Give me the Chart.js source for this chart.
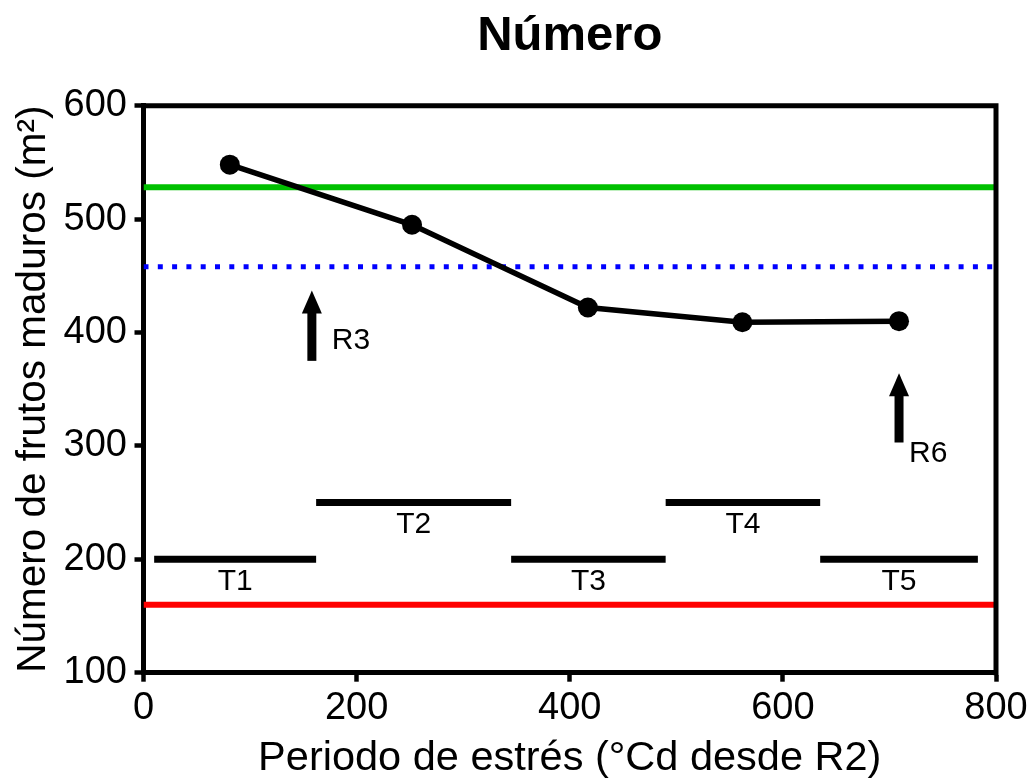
<!DOCTYPE html>
<html>
<head>
<meta charset="utf-8">
<script src="https://cdn.jsdelivr.net/npm/chart.js@4.4.1/dist/chart.umd.min.js"></script>
<style>
  html, body { margin: 0; padding: 0; background: #ffffff; }
  #wrap { width: 1036px; height: 783px; }
</style>
</head>
<body>
<div id="wrap"><canvas id="c" width="1036" height="783"></canvas></div>
<script>
// Stress period (°Cd from R2) and number of mature fruits per m²
const periodX = [81, 252, 417, 562, 709];
const frutos = [548, 495, 422, 409, 410];

// Horizontal reference levels
const refVerde = 528;
const refAzul = 458;
const refRojo = 160;

// Stress treatments: start / end of each period and the level where its bar sits
const trtLabels = ['T1', 'T2', 'T3', 'T4', 'T5'];
const trtStart = [10, 162, 345, 490, 635];
const trtEnd = [162, 345, 490, 635, 783];
const trtLevel = [200, 250, 200, 250, 200];

// Phenological stages marked with arrows (x, base value, tip value)
const stageLabels = ['R3', 'R6'];
const stageX = [158, 709];
const stageFrom = [375, 303];
const stageTo = [437, 364];

// Axis ranges and ticks
const xMin = 0, xMax = 800, xStep = 200;
const yMin = 100, yMax = 600, yStep = 100;

const FONT = '"Liberation Sans", Arial, Helvetica, sans-serif';

// Label placement relative to each arrow base (pixels)
const stageLabelOffset = [{ dx: 20, dy: -20 }, { dx: 10, dy: 11 }];

function hline(value) {
  return [{ x: xMin, y: value }, { x: xMax, y: value }];
}

// Treatment bars as one broken line (null points separate the segments)
const trtPoints = [];
trtLabels.forEach((_, i) => {
  trtPoints.push({ x: trtStart[i], y: trtLevel[i] });
  trtPoints.push({ x: trtEnd[i], y: trtLevel[i] });
  trtPoints.push({ x: trtEnd[i], y: null });
});

const frame = {
  id: 'frame',
  afterDatasetsDraw(chart) {
    const { ctx, chartArea: a } = chart;
    ctx.save();
    ctx.strokeStyle = '#000';
    ctx.lineWidth = 5;
    ctx.lineCap = 'square';
    ctx.beginPath();
    ctx.moveTo(a.left, a.top);
    ctx.lineTo(a.right, a.top);
    ctx.lineTo(a.right, a.bottom);
    ctx.stroke();
    ctx.restore();
  }
};

const annotations = {
  id: 'annotations',
  afterDatasetsDraw(chart) {
    const { ctx, scales: { x, y } } = chart;
    ctx.save();
    ctx.fillStyle = '#000';
    // treatment names under each bar
    ctx.font = '30px ' + FONT;
    ctx.textAlign = 'center';
    ctx.textBaseline = 'middle';
    trtLabels.forEach((lab, i) => {
      const px = x.getPixelForValue((trtStart[i] + trtEnd[i]) / 2);
      const py = y.getPixelForValue(trtLevel[i]) + 22;
      ctx.fillText(lab, px, py);
    });
    // stage arrows
    const headLen = 23, headW = 20, shaftW = 9;
    stageLabels.forEach((lab, i) => {
      const px = x.getPixelForValue(stageX[i]);
      const yb = y.getPixelForValue(stageFrom[i]);
      const yt = y.getPixelForValue(stageTo[i]);
      ctx.fillRect(px - shaftW / 2, yt + headLen - 1, shaftW, yb - yt - headLen + 1);
      ctx.beginPath();
      ctx.moveTo(px, yt);
      ctx.lineTo(px + headW / 2, yt + headLen);
      ctx.lineTo(px - headW / 2, yt + headLen);
      ctx.closePath();
      ctx.fill();
      ctx.font = '30px ' + FONT;
      ctx.textAlign = 'left';
      ctx.textBaseline = 'middle';
      ctx.fillText(lab, px + stageLabelOffset[i].dx, yb + stageLabelOffset[i].dy);
    });
    ctx.restore();
  }
};

new Chart(document.getElementById('c'), {
  type: 'line',
  data: {
    datasets: [
      {
        label: 'Frutos maduros',
        data: periodX.map((v, i) => ({ x: v, y: frutos[i] })),
        borderColor: '#000',
        backgroundColor: '#000',
        borderWidth: 5.5,
        pointRadius: 10,
        pointBorderWidth: 0,
        pointBackgroundColor: '#000',
        tension: 0
      },
      {
        label: 'Tratamientos',
        data: trtPoints,
        borderColor: '#000',
        borderWidth: 7,
        pointRadius: 0,
        spanGaps: false,
        borderCapStyle: 'butt'
      },
      {
        label: 'Referencia verde',
        data: hline(refVerde),
        borderColor: '#00c000',
        borderWidth: 6,
        pointRadius: 0
      },
      {
        label: 'Referencia azul',
        data: hline(refAzul),
        borderColor: '#0000ff',
        borderWidth: 5,
        borderDash: [5, 9.3],
        pointRadius: 0
      },
      {
        label: 'Referencia roja',
        data: hline(refRojo),
        borderColor: '#ff0000',
        borderWidth: 6,
        pointRadius: 0
      }
    ]
  },
  options: {
    responsive: false,
    animation: false,
    events: [],
    layout: { padding: { left: 0, right: 40, top: 0, bottom: 0 } },
    plugins: {
      legend: { display: false },
      tooltip: { enabled: false },
      title: {
        display: true,
        fullSize: false,
        text: 'Número',
        color: '#000',
        font: { family: FONT, size: 49, weight: 'bold', lineHeight: 1.2 },
        padding: { top: 7, bottom: 39.9 }
      }
    },
    scales: {
      x: {
        type: 'linear',
        min: xMin,
        max: xMax,
        afterFit(s) { s.height = 110.3; },
        ticks: {
          stepSize: xStep,
          color: '#000',
          padding: 4,
          maxRotation: 0,
          font: { family: FONT, size: 38 }
        },
        grid: {
          display: true,
          drawOnChartArea: false,
          drawTicks: true,
          tickLength: 9,
          tickWidth: 4.5,
          tickColor: '#000',
          color: '#000'
        },
        border: { display: true, color: '#000', width: 5 },
        title: {
          display: true,
          text: 'Periodo de estrés (°Cd desde R2)',
          color: '#000',
          font: { family: FONT, size: 41.5, lineHeight: 1.2 },
          padding: { top: 0, bottom: 0 }
        }
      },
      y: {
        type: 'linear',
        min: yMin,
        max: yMax,
        afterFit(s) { s.width = 143.5; },
        ticks: {
          stepSize: yStep,
          color: '#000',
          padding: 7.5,
          font: { family: FONT, size: 38 }
        },
        grid: {
          display: true,
          drawOnChartArea: false,
          drawTicks: true,
          tickLength: 9,
          tickWidth: 4.5,
          tickColor: '#000',
          color: '#000'
        },
        border: { display: true, color: '#000', width: 5 },
        title: {
          display: true,
          text: 'Número de frutos maduros (m²)',
          color: '#000',
          font: { family: FONT, size: 40.5, lineHeight: 1.2 },
          padding: { top: 9.5, bottom: 0 }
        }
      }
    }
  },
  plugins: [frame, annotations]
});
</script>
</body>
</html>
